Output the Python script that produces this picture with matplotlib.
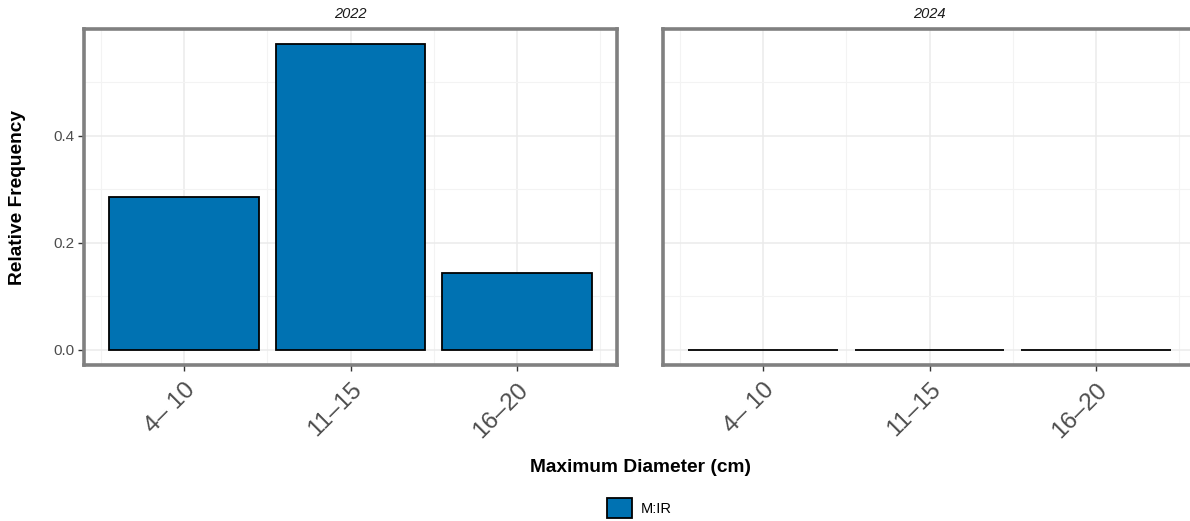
import matplotlib
matplotlib.use("Agg")
import matplotlib.pyplot as plt
from matplotlib.patches import Patch

plt.rcParams['font.family'] = ['Liberation Sans', 'DejaVu Sans']

sizes = ["4\u2013 10", "11\u201315", "16\u201320"]
years = ["2022", "2024"]
freq_2022 = [2/7, 4/7, 1/7]
freq_2024 = [0.0, 0.0, 0.0]
series = "M:IR"
bar_color = "#0072B2"

fig = plt.figure(figsize=(11.9, 5.21), dpi=100)
W, H = 1190, 521
boxes = [(84, 617), (663, 1196)]
top, bot = 29, 365

for (x0, x1), year, vals in zip(boxes, years, [freq_2022, freq_2024]):
    ax = fig.add_axes([x0 / W, 1 - bot / H, (x1 - x0) / W, (bot - top) / H])
    xs = list(range(1, len(sizes) + 1))
    ax.bar(xs, vals, width=0.9, color=bar_color, edgecolor="black", linewidth=1.3, zorder=3)
    ax.set_xlim(0.4, 3.6)
    ax.set_ylim(-0.0286, 0.6)
    ax.set_xticks(xs)
    ax.set_xticklabels(sizes, rotation=45, ha="right", rotation_mode="anchor",
                       fontsize=17.5, color="#4d4d4d")
    ax.set_xticks([0.5, 1.5, 2.5, 3.5], minor=True)
    ax.set_yticks([0.0, 0.2, 0.4])
    ax.set_yticks([0.1, 0.3, 0.5], minor=True)
    ax.tick_params(axis="both", which="major", length=4, width=1, color="#333333", pad=3)
    ax.tick_params(axis="x", which="major", pad=6)
    ax.tick_params(axis="both", which="minor", length=0)
    if year == "2022":
        ax.set_yticklabels(["0.0", "0.2", "0.4"], fontsize=11, color="#4d4d4d")
    else:
        ax.set_yticklabels([])
        ax.tick_params(axis="y", which="major", length=0)
    ax.grid(which="major", color="#ebebeb", linewidth=1.1, zorder=0)
    ax.grid(which="minor", color="#f3f3f3", linewidth=0.8, zorder=0)
    ax.set_axisbelow(True)
    for s in ax.spines.values():
        s.set_color("#808080")
        s.set_linewidth(2.6)
    ax.set_title(year, fontsize=10.5, style="italic", color="#1a1a1a", pad=8)

fig.text(18 / W, 1 - 197 / H, "Relative Frequency", rotation=90, ha="center", va="center",
         fontsize=13.8, fontweight="bold")
fig.text(640 / W, 1 - 467 / H, "Maximum Diameter (cm)", ha="center", va="center",
         fontsize=13.8, fontweight="bold")

handles = [Patch(facecolor=bar_color, edgecolor="black", linewidth=1.3, label=series)]
fig.legend(handles=handles, loc="center", bbox_to_anchor=(639 / W, 1 - 508 / H),
           frameon=False, fontsize=10.5, handlelength=1.7, handleheight=1.7, handletextpad=0.6)

fig.savefig("out.png", dpi=100)
